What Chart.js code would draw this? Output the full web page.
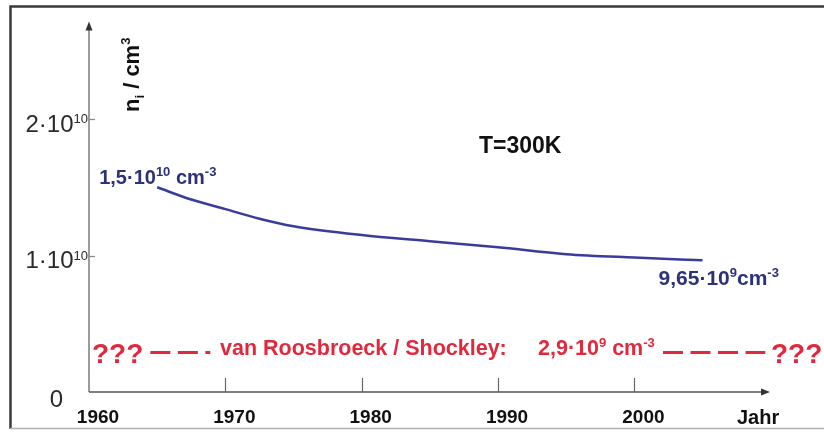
<!DOCTYPE html>
<html>
<head>
<meta charset="utf-8">
<title>Intrinsische Ladungsträgerdichte von Silizium</title>
<script src="https://cdn.jsdelivr.net/npm/chart.js@4.4.1/dist/chart.umd.min.js"></script>
<style>
  html, body { margin: 0; padding: 0; background: #fff; }
  canvas { display: block; }
</style>
</head>
<body>
<canvas id="c" width="824" height="434"></canvas>
<script>
// Published values of n_i (Si, 300 K) over the years, in cm^-3
const years = [1965, 1967.5, 1970, 1972.5, 1975, 1980, 1985, 1990, 1995, 2000, 2005];
const ni = [1.50e10, 1.41e10, 1.34e10, 1.27e10, 1.215e10, 1.15e10, 1.105e10, 1.06e10, 1.01e10, 0.985e10, 0.965e10];

// van Roosbroeck / Shockley value, drawn as dashed guide pieces
const vrsValue = 2.9e9;
const vrsLeftYears = [1964.5, 1968.9];
const vrsRightYears = [2002.1, 2009.6];

// Axis ticks
const xTickValues = [1960, 1970, 1980, 1990, 2000];
const xTickLabels = ['1960', '1970', '1980', '1990', '2000'];
const yTickValues = [0, 1e10, 2e10];
const yTickMantissa = ['0', '1·10', '2·10'];
const yTickExponent = ['', '10', '10'];

const FONT = '"Liberation Sans", Arial, Helvetica, sans-serif';
const NAVY = '#2c3178';
const LINE = '#3a3c9c';
const RED = '#e2283c';

function font(size, bold) { return (bold ? 'bold ' : '') + size + 'px ' + FONT; }

// Draws a run of text pieces (with super/subscripts) starting at x, baseline y
function rich(ctx, x, y, parts, align) {
  let total = 0;
  parts.forEach(p => { ctx.font = font(p.size, p.bold); total += ctx.measureText(p.t).width; });
  let cx = align === 'right' ? x - total : (align === 'center' ? x - total / 2 : x);
  ctx.textAlign = 'left';
  ctx.textBaseline = 'alphabetic';
  parts.forEach(p => {
    ctx.font = font(p.size, p.bold);
    ctx.fillText(p.t, cx, y + (p.dy || 0));
    cx += ctx.measureText(p.t).width;
  });
}

const decorations = {
  id: 'decorations',
  beforeDraw(chart) {
    const ctx = chart.ctx;
    ctx.save();
    ctx.fillStyle = '#fff';
    ctx.fillRect(0, 0, chart.width, chart.height);
    // outer frame
    ctx.strokeStyle = '#3a3a3a';
    ctx.lineWidth = 2.5;
    ctx.beginPath();
    ctx.moveTo(10.5, 429);
    ctx.lineTo(10.5, 6.5);
    ctx.lineTo(chart.width + 5, 6.5);
    ctx.stroke();
    ctx.strokeStyle = '#b0b0b0';
    ctx.lineWidth = 1.5;
    ctx.beginPath();
    ctx.moveTo(10, 428.5);
    ctx.lineTo(chart.width + 5, 428.5);
    ctx.stroke();
    ctx.restore();
  },
  beforeDatasetsDraw(chart) {
    const ctx = chart.ctx;
    const xs = chart.scales.x, ys = chart.scales.y;
    const x0 = xs.getPixelForValue(xs.min);
    const y0 = ys.getPixelForValue(0);
    const xEnd = chart.chartArea.right;
    const yTop = chart.chartArea.top;
    ctx.save();
    // y axis with arrow
    ctx.strokeStyle = '#7a7a7a';
    ctx.fillStyle = '#333';
    ctx.lineWidth = 1.5;
    ctx.beginPath();
    ctx.moveTo(x0, y0);
    ctx.lineTo(x0, yTop + 6);
    ctx.stroke();
    ctx.beginPath();
    ctx.moveTo(x0, yTop - 2);
    ctx.lineTo(x0 - 3.5, yTop + 7);
    ctx.lineTo(x0 + 3.5, yTop + 7);
    ctx.closePath();
    ctx.fill();
    // x axis with arrow
    ctx.strokeStyle = '#555';
    ctx.beginPath();
    ctx.moveTo(x0, y0);
    ctx.lineTo(xEnd - 6, y0);
    ctx.stroke();
    ctx.beginPath();
    ctx.moveTo(xEnd + 2, y0);
    ctx.lineTo(xEnd - 7, y0 - 3.5);
    ctx.lineTo(xEnd - 7, y0 + 3.5);
    ctx.closePath();
    ctx.fill();
    // x ticks (inward)
    ctx.strokeStyle = '#666';
    ctx.lineWidth = 1.2;
    xTickValues.forEach(v => {
      if (v === xs.min) return;
      const px = Math.round(xs.getPixelForValue(v)) + 0.5;
      ctx.beginPath();
      ctx.moveTo(px, y0);
      ctx.lineTo(px, y0 - 14);
      ctx.stroke();
    });
    // y ticks (inward) and labels
    ctx.strokeStyle = '#888';
    yTickValues.forEach((v, i) => {
      const py = ys.getPixelForValue(v);
      ctx.fillStyle = '#2a2a2a';
      if (v === 0) {
        rich(ctx, x0 - 26, py + 15, [{ t: yTickMantissa[i], size: 24 }], 'right');
        return;
      }
      ctx.beginPath();
      ctx.moveTo(x0, Math.round(py) + 0.5);
      ctx.lineTo(x0 + 6, Math.round(py) + 0.5);
      ctx.stroke();
      rich(ctx, x0 - 1, py + 12.5, [
        { t: yTickMantissa[i], size: 24 },
        { t: yTickExponent[i], size: 13, dy: -8.5 }
      ], 'right');
    });
    ctx.restore();
  },
  afterDatasetsDraw(chart) {
    const ctx = chart.ctx;
    const xs = chart.scales.x, ys = chart.scales.y;
    const y0 = ys.getPixelForValue(0);
    ctx.save();

    // axis titles
    ctx.fillStyle = '#111';
    ctx.save();
    ctx.translate(139, 112);
    ctx.rotate(-Math.PI / 2);
    rich(ctx, 0, 0, [
      { t: 'n', size: 22, bold: true },
      { t: 'i', size: 13, bold: true, dy: 5 },
      { t: ' / cm', size: 22, bold: true },
      { t: '3', size: 13, bold: true, dy: -9 }
    ], 'left');
    ctx.restore();
    rich(ctx, 737, y0 + 32, [{ t: 'Jahr', size: 20, bold: true }], 'left');

    // temperature note
    rich(ctx, 479, 153, [{ t: 'T=300K', size: 23, bold: true }], 'left');

    // start / end values of the curve
    const n = years.length;
    const sx = xs.getPixelForValue(years[0]), sy = ys.getPixelForValue(ni[0]);
    const ex = xs.getPixelForValue(years[n - 1]), ey = ys.getPixelForValue(ni[n - 1]);
    ctx.fillStyle = NAVY;
    rich(ctx, sx - 58, sy - 3, [
      { t: '1,5·10', size: 20, bold: true },
      { t: '10', size: 13, bold: true, dy: -8 },
      { t: ' cm', size: 20, bold: true },
      { t: '-3', size: 13, bold: true, dy: -8 }
    ], 'left');
    rich(ctx, ex - 44, ey + 25, [
      { t: '9,65·10', size: 21, bold: true },
      { t: '9', size: 13, bold: true, dy: -8 },
      { t: 'cm', size: 21, bold: true },
      { t: '-3', size: 13, bold: true, dy: -8 }
    ], 'left');

    // van Roosbroeck / Shockley annotation
    const ry = ys.getPixelForValue(vrsValue);
    ctx.fillStyle = RED;
    rich(ctx, xs.getPixelForValue(1960) + 3, ry + 11, [{ t: '???', size: 28, bold: true }], 'left');
    rich(ctx, 220, ry + 3, [{ t: 'van Roosbroeck / Shockley:', size: 21.5, bold: true }], 'left');
    rich(ctx, 538, ry + 3, [
      { t: '2,9·10', size: 21.5, bold: true },
      { t: '9', size: 13, bold: true, dy: -8 },
      { t: ' cm', size: 21.5, bold: true },
      { t: '-3', size: 13, bold: true, dy: -8 }
    ], 'left');
    rich(ctx, 771, ry + 11, [{ t: '???', size: 28, bold: true }], 'left');
    ctx.restore();
  }
};

new Chart(document.getElementById('c'), {
  type: 'line',
  data: {
    datasets: [
      {
        data: years.map((y, i) => ({ x: y, y: ni[i] })),
        borderColor: LINE,
        borderWidth: 2.5,
        pointRadius: 0,
        cubicInterpolationMode: 'monotone',
        fill: false
      },
      {
        data: vrsLeftYears.map(y => ({ x: y, y: vrsValue })),
        borderColor: RED,
        borderWidth: 3,
        borderDash: [20, 7.5],
        pointRadius: 0,
        fill: false
      },
      {
        data: vrsRightYears.map(y => ({ x: y, y: vrsValue })),
        borderColor: RED,
        borderWidth: 3,
        borderDash: [20, 7.5],
        pointRadius: 0,
        fill: false
      }
    ]
  },
  options: {
    responsive: false,
    devicePixelRatio: 1,
    animation: false,
    layout: { padding: { left: 89, top: 23.5, right: 56, bottom: 0 } },
    plugins: { legend: { display: false }, tooltip: { enabled: false } },
    scales: {
      x: {
        type: 'linear',
        min: 1960,
        max: 2009.8,
        grid: { display: false, drawTicks: false },
        border: { display: false },
        afterBuildTicks: s => { s.ticks = xTickValues.map(v => ({ value: v })); },
        afterFit: s => { s.height = 42; },
        ticks: {
          padding: 14,
          labelOffset: 9,
          maxRotation: 0,
          color: '#111',
          font: { family: FONT, size: 19, weight: 'bold' },
          callback: (v) => xTickLabels[xTickValues.indexOf(v)]
        }
      },
      y: {
        display: false,
        min: 0,
        max: 2.7e10
      }
    }
  },
  plugins: [decorations]
});
</script>
</body>
</html>
